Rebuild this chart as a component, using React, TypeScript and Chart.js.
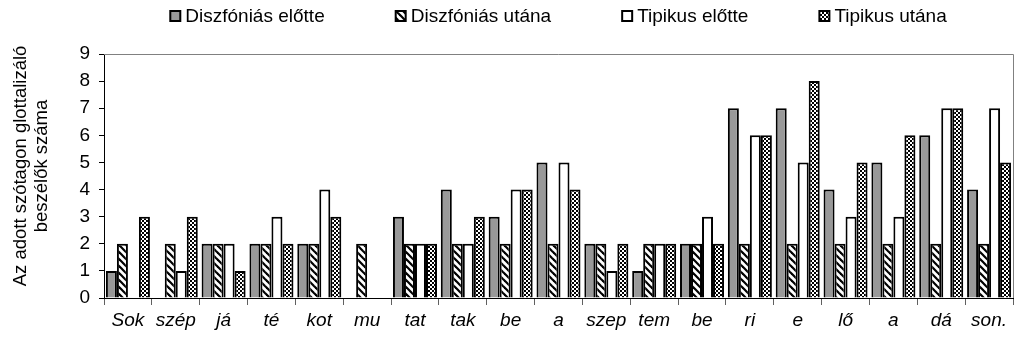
import React, { useEffect, useRef } from "react";
import { Chart, registerables } from "chart.js";

Chart.register(...registerables);

const categories = ["Sok", "szép", "já", "té", "kot", "mu", "tat", "tak", "be", "a", "szep", "tem", "be", "ri", "e", "lő", "a", "dá", "son."];
const diszElotte = [1, 0, 2, 2, 2, 0, 3, 4, 3, 5, 2, 1, 2, 7, 7, 4, 5, 6, 4];
const diszUtana = [2, 2, 2, 2, 2, 2, 2, 2, 2, 2, 2, 2, 2, 2, 2, 2, 2, 2, 2];
const tipElotte = [0, 1, 2, 3, 4, 0, 2, 2, 4, 5, 1, 2, 3, 6, 5, 3, 3, 7, 7];
const tipUtana = [3, 3, 1, 2, 3, 0, 2, 3, 4, 4, 2, 2, 2, 6, 8, 5, 6, 7, 5];
const seriesNames = ["Diszfóniás előtte", "Diszfóniás utána", "Tipikus előtte", "Tipikus utána"];
const yTicks = [0, 1, 2, 3, 4, 5, 6, 7, 8, 9];
const yTitle = ["Az adott szótagon glottalizáló", "beszélők száma"];

const FONT = "Liberation Sans";

function makeStripe(ctx: CanvasRenderingContext2D) {
  const c = document.createElement("canvas");
  c.width = 7;
  c.height = 7;
  const g = c.getContext("2d")!;
  g.fillStyle = "#ffffff";
  g.fillRect(0, 0, 7, 7);
  g.strokeStyle = "#000000";
  g.lineWidth = 2.2;
  for (let k = -7; k <= 7; k += 7) {
    g.beginPath();
    g.moveTo(k - 2, -2);
    g.lineTo(k + 9, 9);
    g.stroke();
  }
  return ctx.createPattern(c, "repeat")!;
}

function makeDots(ctx: CanvasRenderingContext2D) {
  const c = document.createElement("canvas");
  c.width = 4;
  c.height = 4;
  const g = c.getContext("2d")!;
  g.fillStyle = "#000000";
  g.fillRect(0, 0, 4, 4);
  g.fillStyle = "#ffffff";
  g.fillRect(0, 0, 2, 2);
  g.fillRect(2, 2, 2, 2);
  return ctx.createPattern(c, "repeat")!;
}

const framePlugin = {
  id: "frame",
  afterDraw(chart: any) {
    const { ctx, chartArea } = chart;
    ctx.save();
    // top and right frame lines
    ctx.strokeStyle = "#808080";
    ctx.lineWidth = 1;
    ctx.beginPath();
    ctx.moveTo(chartArea.left, chartArea.top + 0.5);
    ctx.lineTo(chartArea.right + 0.5, chartArea.top + 0.5);
    ctx.lineTo(chartArea.right + 0.5, chartArea.bottom);
    ctx.stroke();

    // y-axis title
    ctx.fillStyle = "#000000";
    ctx.font = `18.5px "${FONT}"`;
    ctx.textAlign = "center";
    ctx.textBaseline = "middle";
    const cy = (chartArea.top + chartArea.bottom) / 2 - 10;
    ctx.save();
    ctx.translate(21, cy);
    ctx.rotate(-Math.PI / 2);
    ctx.fillText(yTitle[0], 0, 0);
    ctx.restore();
    ctx.save();
    ctx.translate(42, cy);
    ctx.rotate(-Math.PI / 2);
    ctx.fillText(yTitle[1], 0, 0);
    ctx.restore();

    // legend
    const ds = chart.data.datasets;
    ctx.font = `19px "${FONT}"`;
    ctx.textAlign = "left";
    const box = 10;
    const gapBoxText = 5;
    const gapItems = 71;
    const widths = ds.map((d: any) => box + gapBoxText + ctx.measureText(d.label).width);
    const total = widths.reduce((a: number, b: number) => a + b, 0) + gapItems * (ds.length - 1);
    let x = (chartArea.left + chartArea.right) / 2 - total / 2;
    const y = 16;
    ds.forEach((d: any, i: number) => {
      ctx.fillStyle = d.backgroundColor;
      ctx.fillRect(x, y - box / 2, box, box);
      ctx.strokeStyle = "#000000";
      ctx.lineWidth = 2;
      ctx.strokeRect(x, y - box / 2, box, box);
      ctx.fillStyle = "#000000";
      ctx.fillText(d.label, x + box + gapBoxText, y + 1);
      x += widths[i] + gapItems;
    });
    ctx.restore();
  },
};

export default function App() {
  const ref = useRef<HTMLCanvasElement>(null);
  useEffect(() => {
    document.body.style.margin = "0";
    const canvas = ref.current!;
    const ctx = canvas.getContext("2d")!;
    const stripe = makeStripe(ctx);
    const dots = makeDots(ctx);
    const fills = ["#999999", stripe, "#ffffff", dots];
    const data = [diszElotte, diszUtana, tipElotte, tipUtana];
    const chart = new Chart(canvas, {
      type: "bar",
      data: {
        labels: categories,
        datasets: seriesNames.map((name, i) => ({
          label: name,
          data: data[i],
          backgroundColor: fills[i] as any,
          borderColor: "#000000",
          borderWidth: 2,
          borderSkipped: "bottom" as any,
          barPercentage: 1,
          categoryPercentage: 0.92,
        })),
      },
      options: {
        responsive: false,
        animation: false,
        layout: { padding: { left: 0, right: 10, top: 54, bottom: 0 } },
        plugins: {
          tooltip: { enabled: false },
          legend: { display: false },
        },
        scales: {
          x: {
            afterFit: (scale: any) => {
              scale.height = 45;
            },
            grid: {
              offset: true,
              drawOnChartArea: false,
              drawTicks: true,
              tickLength: 7,
              color: "#606060",
            },
            border: { color: "#000000", width: 1 },
            ticks: {
              color: "#000000",
              padding: 4,
              font: { family: FONT, size: 19, style: "italic" },
              maxRotation: 0,
              autoSkip: false,
            },
          },
          y: {
            min: 0,
            max: 9,
            afterBuildTicks: (scale: any) => {
              scale.ticks = yTicks.map((v) => ({ value: v }));
            },
            afterFit: (scale: any) => {
              scale.width = 104;
            },
            grid: {
              drawOnChartArea: false,
              drawTicks: true,
              tickLength: 5,
              color: "#000000",
            },
            border: { color: "#000000", width: 1 },
            ticks: {
              color: "#000000",
              padding: 9,
              font: { family: FONT, size: 19 },
            },
          },
        },
      },
      plugins: [framePlugin],
    });
    return () => chart.destroy();
  }, []);
  return (
    <div style={{ width: 1023, height: 343 }}>
      <canvas ref={ref} width={1023} height={343} style={{ display: "block" }} />
    </div>
  );
}
